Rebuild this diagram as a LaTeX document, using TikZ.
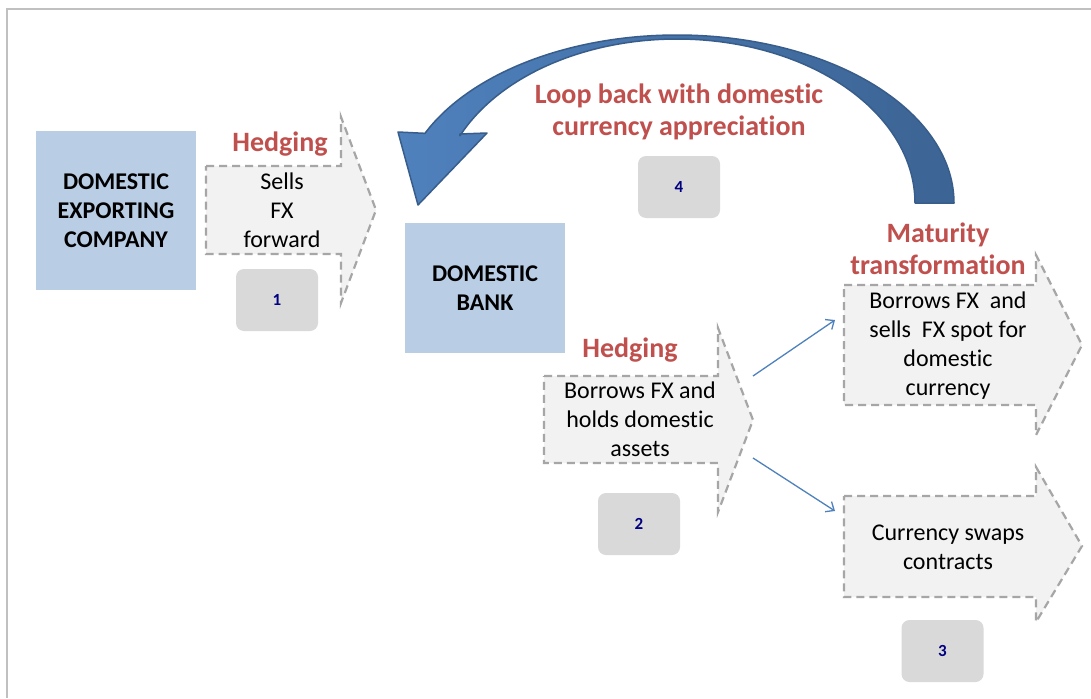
\documentclass[tikz,border=0pt]{standalone}
\usepackage{fontspec}
\setmainfont{Carlito}[Ligatures={NoCommon}]
\usetikzlibrary{arrows.meta}
\definecolor{boxblue}{HTML}{B9CDE5}
\definecolor{hedgered}{HTML}{C0504D}
\definecolor{dashgray}{HTML}{A6A6A6}
\definecolor{arrowfill}{HTML}{F2F2F2}
\definecolor{badgegray}{HTML}{D9D9D9}
\definecolor{numnavy}{HTML}{000080}
\definecolor{loopA}{HTML}{4F81BD}
\definecolor{loopB}{HTML}{3C6494}
\definecolor{loopline}{HTML}{385D8A}
\definecolor{framegray}{HTML}{C0C0C0}
\begin{document}
\begin{tikzpicture}[x=1pt,y=-1pt,
  entity/.style={fill=boxblue, draw=none, inner sep=0pt, align=center,
    font=\fontsize{24}{29}\selectfont\bfseries},
  redlabel/.style={text=hedgered, align=center, inner sep=0pt,
    font=\fontsize{28}{32}\selectfont\bfseries},
  flowtext/.style={align=center, inner sep=0pt, font=\fontsize{24}{29}\selectfont},
  badge/.style={fill=badgegray, draw=none, rounded corners=8pt, minimum width=82pt,
    minimum height=62pt, inner sep=0pt, text=numnavy, font=\fontsize{17}{20}\selectfont\bfseries},
  flowarrow/.style={fill=arrowfill, draw=dashgray, line width=2.2pt, dash pattern=on 8pt off 5pt},
  link/.style={draw=loopA, line width=1.3pt, -{Straight Barb[length=7pt,width=12pt]}},
  loop/.style={left color=loopA, right color=loopB, draw=loopline, line width=1.5pt, line join=round}
]
\useasboundingbox (0,0) rectangle (1091,698);
\fill[white] (0,0) rectangle (1091,698);
% frame
\draw[framegray, line width=1.3pt] (7,698) -- (7,9) -- (1091,9);

% curved loop arrow
\path[loop] plot[domain=0:155.5, samples=60, smooth] ({677+277*cos(\x)}, {203-168*sin(\x)})
  -- (398,132) -- (418,205) -- (487,133) -- (460,134)
  -- plot[domain=155.8:0, samples=60, smooth] ({677+238*cos(\x)}, {203-164*sin(\x)}) -- cycle;

% dashed flow arrows
\draw[flowarrow] (206,166) -- (341,166) -- (341,117) -- (376,210) -- (341,303) -- (341,254) -- (206,254) -- cycle;
\draw[flowarrow] (544,376) -- (718,376) -- (718,328) -- (753,420) -- (718,512) -- (718,463) -- (544,463) -- cycle;
\draw[flowarrow] (844,285) -- (1036,285) -- (1036,255) -- (1082,345) -- (1036,435) -- (1036,405) -- (844,405) -- cycle;
\draw[flowarrow] (844,496) -- (1036,496) -- (1036,467) -- (1082,546) -- (1036,622) -- (1036,597) -- (844,597) -- cycle;

% entity boxes
\node[entity, minimum width=160pt, minimum height=159pt] (company) at (116,210.5)
  {DOMESTIC\\EXPORTING\\COMPANY};
\node[entity, minimum width=160pt, minimum height=130pt] (bank) at (485,288)
  {DOMESTIC\\BANK};

% texts in arrows
\node[flowtext] (sells) at (282,210) {Sells\\FX\\forward};
\node[flowtext] (borrow) at (640,419.5) {Borrows FX and\\holds domestic\\assets};
\node[flowtext] (spot) at (948,345.5) {Borrows FX\ \ and\\sells\ \ FX spot for\\domestic\\currency};
\node[flowtext] (swaps) at (948,547.5) {Currency swaps\\contracts};

% red labels
\node[redlabel] (hedge1) at (280,144) {Hedging};
\node[redlabel] (hedge2) at (630,350) {Hedging};
\node[redlabel] (maturity) at (938,249) {Maturity\\transformation};
\node[redlabel] (loopback) at (679,112) {Loop back with domestic\\currency appreciation};

% badges
\node[badge] (b1) at (277,300) {1};
\node[badge] (b2) at (639,524) {2};
\node[badge] (b3) at (942.5,651) {3};
\node[badge] (b4) at (679,187) {4};

% links
\coordinate (l1s) at (753,376);
\coordinate (l1e) at (835,320);
\coordinate (l2s) at (753,458);
\coordinate (l2e) at (835,511);
\draw[link] (l1s) -- (l1e);
\draw[link] (l2s) -- (l2e);
\end{tikzpicture}
\end{document}
